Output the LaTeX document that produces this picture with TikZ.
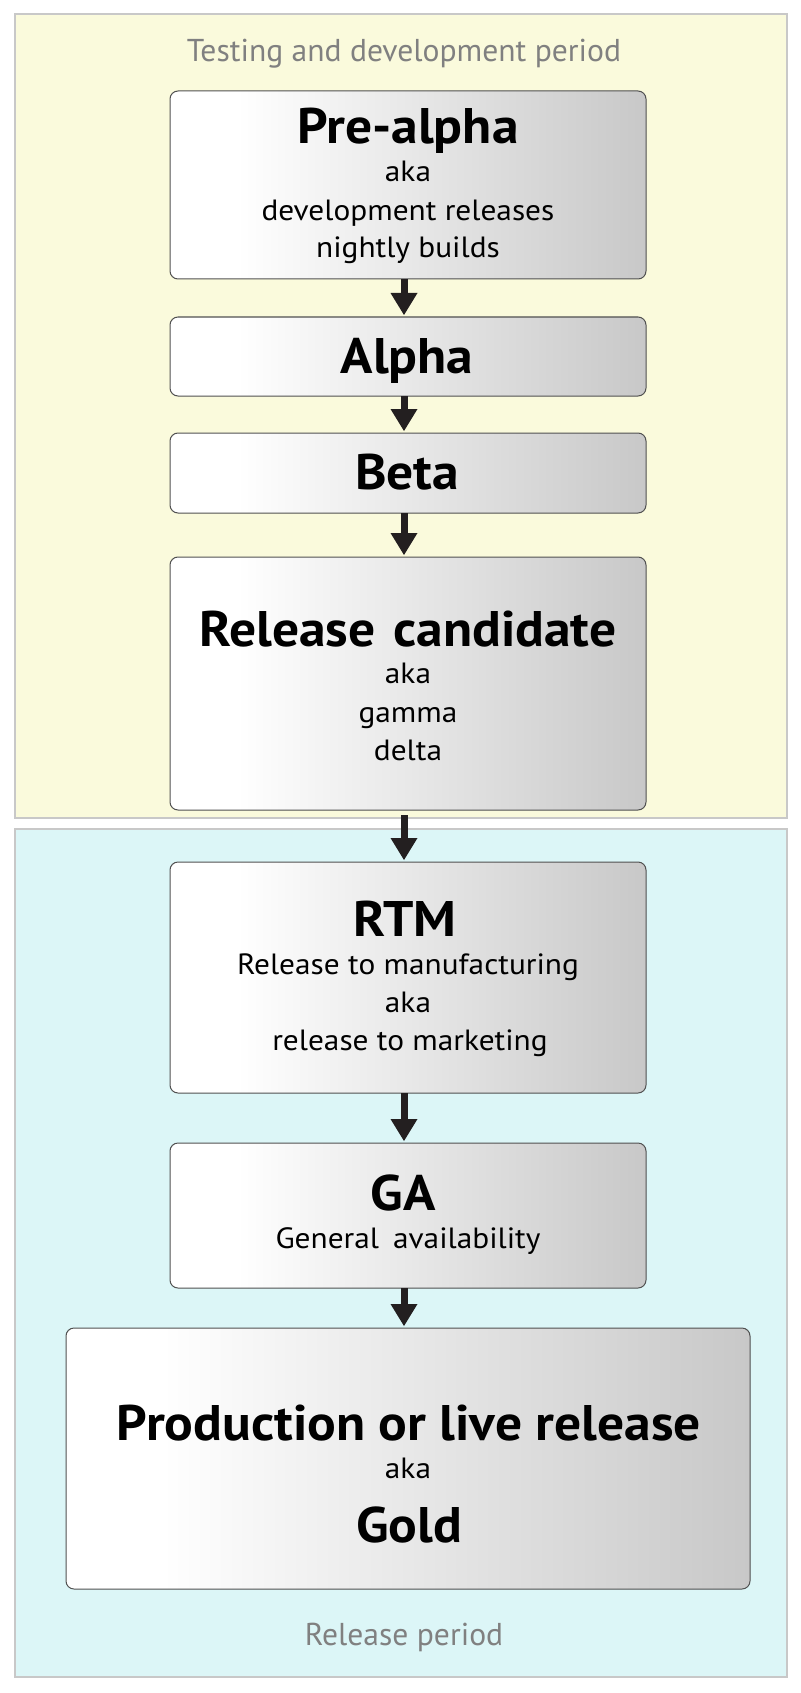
\documentclass[tikz,border=0pt]{standalone}
\usepackage{fontspec}
\setmainfont{PT Sans}
\newfontfamily\widefont{PT Sans}[FakeStretch=1.07]
\usetikzlibrary{arrows.meta}
\definecolor{ybg}{RGB}{250,250,220}
\definecolor{cbg}{RGB}{220,246,247}
\definecolor{pborder}{RGB}{200,200,200}
\definecolor{boxgray}{RGB}{200,200,200}
\definecolor{boxline}{RGB}{80,80,80}
\definecolor{arrowc}{RGB}{35,31,32}
\definecolor{titlec}{RGB}{128,128,128}
\pgfdeclarehorizontalshading{boxshade}{100bp}{color(0bp)=(white); color(25bp)=(white); color(32bp)=(white); color(75bp)=(boxgray); color(100bp)=(boxgray)}
\begin{document}
\begin{tikzpicture}[x=1pt,y=-1pt,
  panel/.style={draw=pborder, line width=1.5pt},
  stage/.style={draw=boxline, line width=1pt, rounded corners=8pt, shading=boxshade, inner sep=0pt, outer sep=0pt, minimum width=476pt},
  big/.style={anchor=base, font=\widefont\bfseries\fontsize{50}{50}\selectfont, inner sep=0pt},
  small/.style={anchor=base, font=\widefont\fontsize{29.3}{30}\selectfont, inner sep=0pt},
  ptitle/.style={anchor=base, font=\fontsize{31.6}{32}\selectfont, text=titlec, inner sep=0pt},
  arr/.style={draw=arrowc, line width=7pt, -{Triangle[width=27pt,length=22pt,line width=0pt]}, shorten >=2pt}
]
\useasboundingbox (0,0) rectangle (800,1693);
\fill[white] (0,0) rectangle (800,1693);
% panels
\path[panel, fill=ybg] (15,14) rectangle (787,818);
\path[panel, fill=cbg] (15,829) rectangle (787,1677);
\node[ptitle] (ttest) at (404,62) {Testing and development period};
\node[ptitle] (trel) at (404,1645) {Release period};
% boxes
\node[stage, minimum height=188pt] (pa) at (408,185) {};
\node[stage, minimum height=79pt] (al) at (408,356.5) {};
\node[stage, minimum height=80pt] (be) at (408,473) {};
\node[stage, minimum height=253pt] (rc) at (408,683.5) {};
\node[stage, minimum height=231pt] (rtm) at (408,977.5) {};
\node[stage, minimum height=145pt] (ga) at (408,1215.5) {};
\node[stage, minimum height=261pt, minimum width=684pt] (pr) at (408,1458.5) {};
% texts
\node[big] (pa1) at (408,144) {Pre-alpha};
\node[small] (pa2) at (408,182) {aka};
\node[small] (pa3) at (408,221) {development releases};
\node[small] (pa4) at (408,258) {nightly builds};
\node[big] (al1) at (407,373) {Alpha};
\node[big] (be1) at (407,489) {Beta};
\node[big] (rc1) at (408,646) {Release\hspace{18pt}candidate};
\node[small] (rc2) at (408,683) {aka};
\node[small] (rc3) at (408,722) {gamma};
\node[small] (rc4) at (408,760) {delta};
\node[big] (rtm1) at (405,936) {RTM};
\node[small] (rtm2) at (408,974) {Release to manufacturing};
\node[small] (rtm3) at (408,1012) {aka};
\node[small] (rtm4) at (410,1050) {release to marketing};
\node[big] (ga1) at (403,1210) {GA};
\node[small] (ga2) at (408,1248) {General\hspace{14pt}availability};
\node[big] (pr1) at (409,1440) {Production or live release};
\node[small] (pr2) at (408,1478) {aka};
\node[big] (pr3) at (409,1542) {Gold};
% arrows
\coordinate (ax) at (404,0);
\draw[arr] (pa.south -| ax) -- (al.north -| ax);
\draw[arr] (al.south -| ax) -- (be.north -| ax);
\draw[arr] (be.south -| ax) -- (rc.north -| ax);
\draw[arr, shorten <=5pt] (rc.south -| ax) -- (rtm.north -| ax);
\draw[arr] (rtm.south -| ax) -- (ga.north -| ax);
\draw[arr] (ga.south -| ax) -- (pr.north -| ax);
\end{tikzpicture}
\end{document}
